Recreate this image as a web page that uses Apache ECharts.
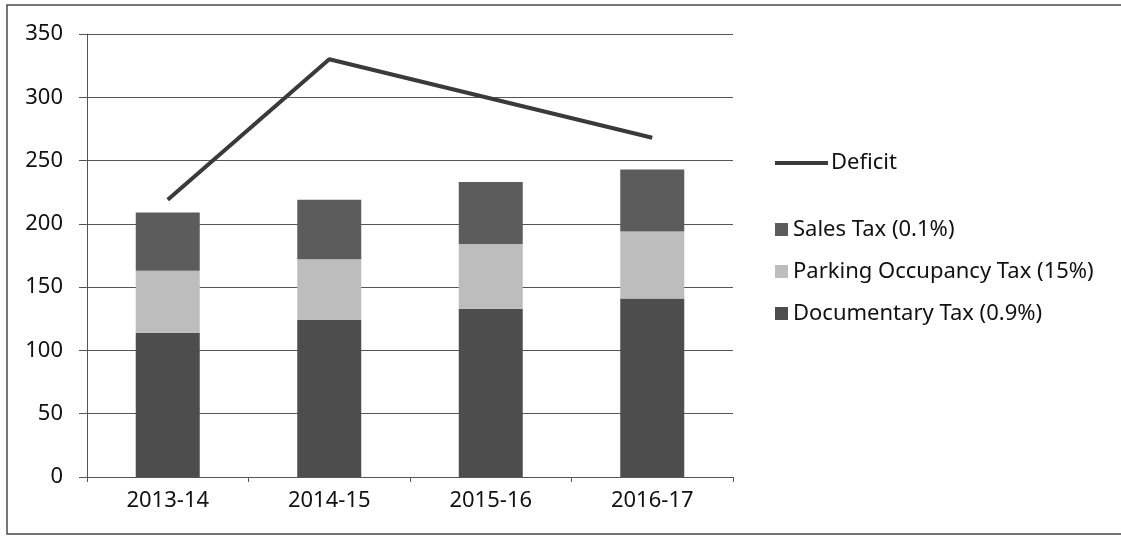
<!DOCTYPE html>
<html>
<head>
<meta charset="utf-8">
<script src="https://cdn.jsdelivr.net/npm/echarts@6/dist/echarts.min.js"></script>
<style>
html,body{margin:0;padding:0;background:#fff;}
#chart{width:1121px;height:536px;}
</style>
</head>
<body>
<div id="chart"></div>
<script>
const categories = ['2013-14', '2014-15', '2015-16', '2016-17'];
const documentaryTax = [114, 124, 133, 141];
const parkingTax = [49, 48, 51, 53];
const salesTax = [46, 47, 49, 49];
const deficit = [219, 330, 299, 268];
const yTicks = [0, 50, 100, 150, 200, 250, 300, 350];

const FONT = 'Noto Sans';
const chart = echarts.init(document.getElementById('chart'));
chart.setOption({
  animation: false,
  backgroundColor: '#ffffff',
  textStyle: { fontFamily: FONT },
  graphic: [{
    type: 'rect',
    shape: { x: 7, y: 5, width: 1130, height: 529 },
    style: { fill: 'none', stroke: '#4a4a4a', lineWidth: 1.5 },
    silent: true
  }],
  grid: { left: 87, right: 388, top: 34, bottom: 59, containLabel: false },
  legend: [{
    data: ['Deficit'],
    left: 770, top: 147,
    itemWidth: 53, itemHeight: 4, itemGap: 4,
    textStyle: { fontFamily: FONT, fontSize: 22, color: '#111', padding: [0, 0, 0, -2] },
    icon: 'rect'
  }, {
    data: ['Sales Tax (0.1%)', 'Parking Occupancy Tax (15%)', 'Documentary Tax (0.9%)'],
    orient: 'vertical',
    left: 770, top: 213,
    itemWidth: 13, itemHeight: 13, itemGap: 19,
    icon: 'rect',
    textStyle: { fontFamily: FONT, fontSize: 22, color: '#111', lineHeight: 23 }
  }],
  xAxis: {
    type: 'category',
    data: categories,
    axisLine: { show: true, lineStyle: { color: '#555', width: 1 } },
    axisTick: { show: true, alignWithLabel: false, length: 5, lineStyle: { color: '#555' } },
    axisLabel: { fontFamily: FONT, fontSize: 22, color: '#111', margin: 13 }
  },
  yAxis: {
    type: 'value',
    min: yTicks[0], max: yTicks[yTicks.length - 1], interval: 50,
    axisLine: { show: true, lineStyle: { color: '#555', width: 1 } },
    axisTick: { show: true, length: 8, lineStyle: { color: '#555' } },
    axisLabel: { fontFamily: FONT, fontSize: 22, color: '#111', margin: 24 },
    splitLine: { show: true, lineStyle: { color: '#555', width: 1 } }
  },
  series: [{
    name: 'Documentary Tax (0.9%)',
    type: 'bar', stack: 'tax', barWidth: 64,
    data: documentaryTax,
    itemStyle: { color: '#4d4d4d' }
  }, {
    name: 'Parking Occupancy Tax (15%)',
    type: 'bar', stack: 'tax', barWidth: 64,
    data: parkingTax,
    itemStyle: { color: '#bdbdbd' }
  }, {
    name: 'Sales Tax (0.1%)',
    type: 'bar', stack: 'tax', barWidth: 64,
    data: salesTax,
    itemStyle: { color: '#5c5c5c' }
  }, {
    name: 'Deficit',
    type: 'line',
    data: deficit,
    symbol: 'none',
    lineStyle: { color: '#3a3a3a', width: 4 },
    itemStyle: { color: '#3a3a3a' },
    z: 5
  }]
});
</script>
</body>
</html>
